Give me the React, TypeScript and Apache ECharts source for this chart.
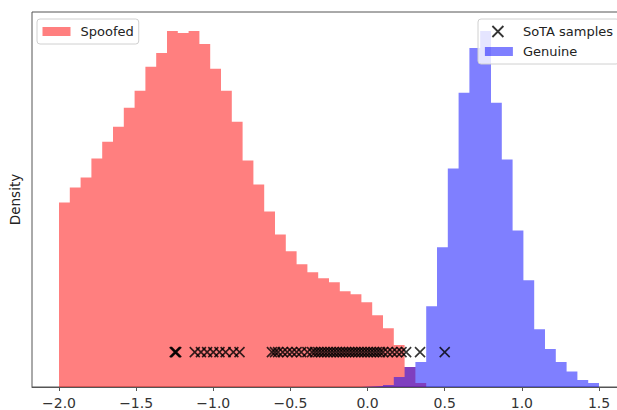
import React, { useEffect, useRef } from 'react';
import * as echarts from 'echarts';

// Histogram bin edges (51 edges -> 50 bins)
const BIN_EDGES = [
  -2.0, -1.93, -1.86, -1.79, -1.72, -1.65, -1.58, -1.51, -1.44, -1.37,
  -1.3, -1.23, -1.16, -1.09, -1.02, -0.95, -0.88, -0.81, -0.74, -0.67,
  -0.6, -0.53, -0.46, -0.39, -0.32, -0.25, -0.18, -0.11, -0.04, 0.03,
  0.1, 0.17, 0.24, 0.31, 0.38, 0.45, 0.52, 0.59, 0.66, 0.73,
  0.8, 0.87, 0.94, 1.01, 1.08, 1.15, 1.22, 1.29, 1.36, 1.43, 1.5,
];

// Density (relative units) per bin
const SPOOFED = [
  1.85, 2.0, 2.1, 2.29, 2.46, 2.61, 2.8, 2.97, 3.21, 3.35,
  3.57, 3.55, 3.57, 3.44, 3.19, 2.97, 2.66, 2.27, 2.03, 1.76,
  1.53, 1.36, 1.23, 1.15, 1.09, 1.05, 0.96, 0.93, 0.85, 0.72,
  0.59, 0.42, 0.2, 0.04, 0, 0, 0, 0, 0, 0,
  0, 0, 0, 0, 0, 0, 0, 0, 0, 0,
];

const GENUINE = [
  0, 0, 0, 0, 0, 0, 0, 0, 0, 0,
  0, 0, 0, 0, 0, 0, 0, 0, 0, 0,
  0, 0, 0, 0, 0, 0, 0, 0, 0.005, 0.01,
  0.02, 0.1, 0.2, 0.25, 0.81, 1.4, 2.19, 2.95, 3.4, 3.57,
  2.85, 2.28, 1.57, 1.07, 0.58, 0.38, 0.25, 0.155, 0.07, 0.04,
];

// SoTA sample scores (x positions) drawn at a fixed level
const SOTA_X = [
  -1.25, -1.245, -1.24,
  -1.12, -1.08, -1.04, -1.0, -0.96, -0.92, -0.87, -0.83,
  -0.62, -0.6, -0.58, -0.55, -0.52, -0.49, -0.46, -0.43, -0.39, -0.36,
  -0.34, -0.32, -0.3, -0.28, -0.26, -0.24, -0.22, -0.2, -0.18, -0.16,
  -0.14, -0.12, -0.1, -0.08, -0.06, -0.04, -0.02, 0.0, 0.02, 0.04,
  0.06, 0.08, 0.1, 0.13, 0.16, 0.19, 0.22, 0.25,
  0.34, 0.5,
];
const SOTA_LEVEL = 0.35;

const X_TICKS = [-2.0, -1.5, -1.0, -0.5, 0.0, 0.5, 1.0, 1.5];

const FONT = 'DejaVu Sans';

function stepData(h: number[]) {
  const pts: number[][] = [[BIN_EDGES[0], 0]];
  h.forEach((v, i) => pts.push([BIN_EDGES[i], v]));
  pts.push([BIN_EDGES[BIN_EDGES.length - 1], h[h.length - 1]]);
  pts.push([BIN_EDGES[BIN_EDGES.length - 1], 0]);
  return pts;
}

const RED = 'rgba(255,0,0,0.5)';
const BLUE = 'rgba(0,0,255,0.5)';

export default function App() {
  const ref = useRef<HTMLDivElement>(null);
  useEffect(() => {
    const chart = echarts.init(ref.current!, null, { renderer: 'svg' });
    const legendBox = {
      backgroundColor: 'rgba(255,255,255,0.8)',
      borderColor: '#d0d0d0',
      borderWidth: 1,
      borderRadius: 3,
      selectedMode: false,
      textStyle: { fontFamily: FONT, fontSize: 13, color: '#222' },
    };
    chart.setOption({
      animation: false,
      grid: {
        left: 30, right: 14, top: 12, bottom: 22,
        show: true, borderColor: '#555', borderWidth: 1,
        backgroundColor: 'rgba(0,0,0,0)',
      },
      xAxis: {
        type: 'value',
        min: -2.175,
        max: 1.675,
        z: 10,
        axisLine: { show: true, onZero: false, lineStyle: { color: '#555', width: 1 } },
        axisTick: { show: true, length: 4, lineStyle: { color: '#555' }, customValues: X_TICKS },
        axisLabel: {
          customValues: X_TICKS,
          fontFamily: FONT,
          fontSize: 14,
          color: '#333',
          margin: 9,
          formatter: (v: number) => (v < 0 ? '\u2212' : '') + Math.abs(v).toFixed(1),
        },
        splitLine: { show: false },
      },
      yAxis: {
        type: 'value',
        min: 0,
        max: 3.76,
        axisLine: { show: false },
        axisTick: { show: false },
        axisLabel: { show: false },
        splitLine: { show: false },
        name: 'Density',
        nameLocation: 'middle',
        nameGap: 10,
        nameTextStyle: { fontFamily: FONT, fontSize: 13.5, color: '#222' },
      },
      legend: [
        {
          ...legendBox,
          left: 37,
          top: 19,
          padding: [6, 5, 6, 5.5],
          itemWidth: 33,
          itemHeight: 9,
          data: [
            {
              name: 'Spoofed',
              icon: 'path://M0,0L28,0L28,9L0,9ZM33,9',
              itemStyle: { color: RED, borderWidth: 0 },
            },
          ],
        },
        {
          ...legendBox,
          orient: 'vertical',
          left: 478,
          top: 19,
          padding: [6, 6, 6, 6],
          itemWidth: 33,
          itemHeight: 11,
          itemGap: 7,
          data: [
            {
              name: 'SoTA samples',
              icon: 'path://M0,0M33,11M7.5,0L18.5,11M18.5,0L7.5,11',
              itemStyle: { color: 'rgba(0,0,0,0)', borderColor: '#000', borderWidth: 1.8 },
            },
            {
              name: 'Genuine',
              icon: 'path://M0,1L28,1L28,10L0,10ZM33,0M33,11',
              itemStyle: { color: BLUE, borderWidth: 0 },
            },
          ],
        },
      ],
      series: [
        {
          name: 'Spoofed',
          type: 'line',
          step: 'end',
          data: stepData(SPOOFED),
          showSymbol: false,
          symbol: 'none',
          lineStyle: { width: 0, opacity: 0 },
          itemStyle: { color: RED },
          areaStyle: { color: RED, opacity: 1 },
          silent: true,
          z: 2,
        },
        {
          name: 'Genuine',
          type: 'line',
          step: 'end',
          data: stepData(GENUINE),
          showSymbol: false,
          symbol: 'none',
          lineStyle: { width: 0, opacity: 0 },
          itemStyle: { color: BLUE },
          areaStyle: { color: BLUE, opacity: 1 },
          silent: true,
          z: 2,
        },
        {
          name: 'SoTA samples',
          type: 'scatter',
          data: SOTA_X.map((x) => [x, SOTA_LEVEL]),
          symbol: 'path://M0,0L10,10M10,0L0,10',
          symbolSize: 10,
          itemStyle: { color: 'rgba(0,0,0,0)', borderColor: '#000', borderWidth: 1.6 },
          silent: true,
          z: 3,
        },
      ],
    });
    return () => chart.dispose();
  }, []);
  return (
    <div
      style={{
        position: 'fixed', left: 0, top: 0, width: 617, height: 410,
        overflow: 'hidden', background: '#fff',
      }}
    >
      <div ref={ref} style={{ width: 640, height: 410 }} />
    </div>
  );
}
